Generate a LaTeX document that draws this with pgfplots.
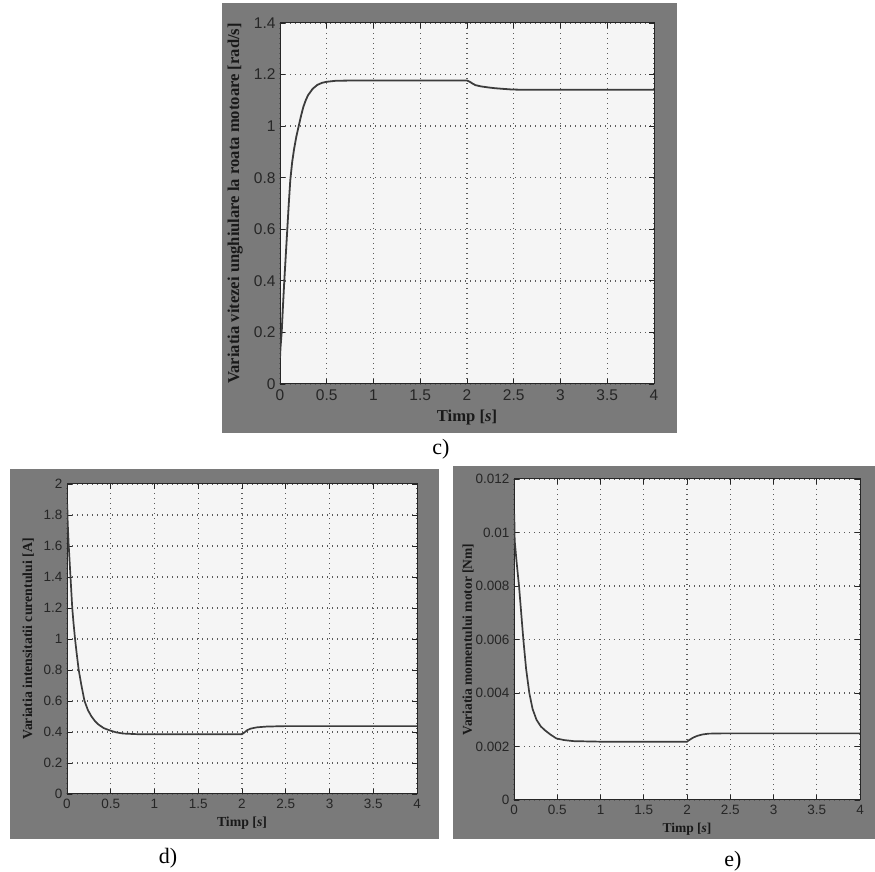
\documentclass[border=0pt]{standalone}
\usepackage{fontspec}
\setmainfont{Liberation Serif}
\newfontfamily\ticksf{Liberation Sans}
\usepackage{pgfplots}
\pgfplotsset{compat=1.18}
\definecolor{framegray}{HTML}{7A7A7A}
\definecolor{plotbg}{HTML}{F5F5F5}
\definecolor{curve}{HTML}{3C3C3C}
\definecolor{gridc}{HTML}{5A5A5A}
\pgfplotsset{matlab/.style={
  scale only axis, anchor=south west,
  axis background/.style={fill=plotbg},
  axis line style={black!85, line width=1pt},
  tick align=inside, major tick length=5pt,
  tick style={black!85, line width=0.9pt},
  xmin=0, xmax=4,
  xtick={0,0.5,1,1.5,2,2.5,3,3.5,4},
  xticklabels={0,0.5,1,1.5,2,2.5,3,3.5,4},
  grid=major,
  major grid style={gridc, line width=1.4pt, dash pattern=on 1.4pt off 3.6pt},
  scaled y ticks=false,
  xlabel={Timp [\textit{s}]},
  ylabel style={anchor=center},
  xlabel style={anchor=center},
  xticklabel style={yshift=-2pt},
  yticklabel style={xshift=-1pt},
}}
\begin{document}
\begin{tikzpicture}
\useasboundingbox (0pt,0pt) rectangle (875pt,872pt);
\fill[white] (0pt,0pt) rectangle (875pt,872pt);
\fill[framegray] (222pt,439pt) rectangle (677pt,869pt);
\fill[framegray] (10pt,33pt) rectangle (439pt,403pt);
\fill[framegray] (453pt,33pt) rectangle (875pt,406pt);
\node[font=\fontsize{22}{22}\selectfont] at (441pt,423pt) {c)};
\node[font=\fontsize{22}{22}\selectfont] at (168pt,14pt) {d)};
\node[font=\fontsize{22}{22}\selectfont] at (733pt,11pt) {e)};

% c) angular velocity
\begin{axis}[matlab, at={(280pt,488pt)}, width=374pt, height=361pt,
  ymin=0, ymax=1.4,
  ytick={0,0.2,0.4,0.6,0.8,1,1.2,1.4},
  yticklabels={0,0.2,0.4,0.6,0.8,1,1.2,1.4},
  tick label style={font=\ticksf\fontsize{15.5}{15.5}\selectfont, text=black!85},
  label style={font=\bfseries\fontsize{16.6}{16.6}\selectfont, text=black!90},
  xlabel style={at={(axis description cs:0.5,-0.094)}},
  ylabel style={at={(axis description cs:-0.12,0.5)}},
  ylabel={Variatia vitezei unghiulare la roata motoare [rad/s]},
]
\addplot[curve, line width=1.8pt] coordinates {
(0,0.10) (0.005,0.14) (0.018,0.20) (0.03,0.29) (0.046,0.40) (0.062,0.50) (0.078,0.60)
(0.094,0.70) (0.11,0.79) (0.13,0.86) (0.15,0.91) (0.175,0.96) (0.2,1.0) (0.225,1.04)
(0.25,1.075) (0.275,1.10) (0.3,1.12) (0.35,1.145) (0.4,1.16) (0.45,1.168) (0.5,1.172)
(0.6,1.176) (0.8,1.177) (2.0,1.177) (2.03,1.172) (2.06,1.165) (2.09,1.159) (2.15,1.154)
(2.23,1.150) (2.3,1.147) (2.37,1.145) (2.48,1.142) (2.6,1.141) (4,1.141)
};
\end{axis}

% d) current
\begin{axis}[matlab, at={(67pt,78pt)}, width=350pt, height=310pt,
  ymin=0, ymax=2,
  ytick={0,0.2,0.4,0.6,0.8,1,1.2,1.4,1.6,1.8,2},
  yticklabels={0,0.2,0.4,0.6,0.8,1,1.2,1.4,1.6,1.8,2},
  tick label style={font=\ticksf\fontsize{13.5}{13.5}\selectfont, text=black!85},
  label style={font=\bfseries\fontsize{13.8}{13.8}\selectfont, text=black!90},
  xlabel style={at={(axis description cs:0.5,-0.094)}},
  ylabel style={at={(axis description cs:-0.111,0.5)}},
  ylabel={Variatia intensitatii curentului [A]},
]
\addplot[curve, line width=1.7pt] coordinates {
(0,1.75) (0.003,1.87) (0.008,1.75) (0.02,1.60) (0.035,1.45) (0.048,1.32) (0.06,1.20)
(0.075,1.10) (0.092,1.0) (0.112,0.90) (0.134,0.80) (0.165,0.70) (0.2,0.60) (0.24,0.54)
(0.28,0.50) (0.32,0.47) (0.355,0.45) (0.42,0.425) (0.49,0.41) (0.56,0.398) (0.64,0.39)
(0.8,0.386) (2.0,0.386) (2.03,0.398) (2.06,0.412) (2.1,0.422) (2.17,0.430) (2.28,0.435)
(2.5,0.438) (4,0.438)
};
\end{axis}

% e) torque
\begin{axis}[matlab, at={(514pt,72pt)}, width=346pt, height=321pt,
  ymin=0, ymax=0.012,
  ytick={0,0.002,0.004,0.006,0.008,0.01,0.012},
  yticklabels={0,0.002,0.004,0.006,0.008,0.01,0.012},
  tick label style={font=\ticksf\fontsize{13.5}{13.5}\selectfont, text=black!85},
  label style={font=\bfseries\fontsize{13.5}{13.5}\selectfont, text=black!90},
  xlabel style={at={(axis description cs:0.5,-0.090)}},
  ylabel style={at={(axis description cs:-0.133,0.5)}},
  ylabel={Variatia momentului motor [Nm]},
]
\addplot[curve, line width=1.7pt] coordinates {
(0,0.0098) (0.003,0.0107) (0.008,0.0097) (0.03,0.0089) (0.058,0.0080) (0.083,0.0070)
(0.108,0.0060) (0.14,0.0049) (0.177,0.0040) (0.215,0.0034) (0.26,0.0030) (0.31,0.00275)
(0.36,0.0026) (0.42,0.00245) (0.49,0.0023) (0.58,0.00224) (0.69,0.0022) (1.0,0.00218)
(2.0,0.00218) (2.03,0.00225) (2.07,0.00233) (2.12,0.00240) (2.18,0.00245) (2.25,0.00248)
(2.4,0.00249) (4,0.00249)
};
\end{axis}
\end{tikzpicture}
\end{document}
